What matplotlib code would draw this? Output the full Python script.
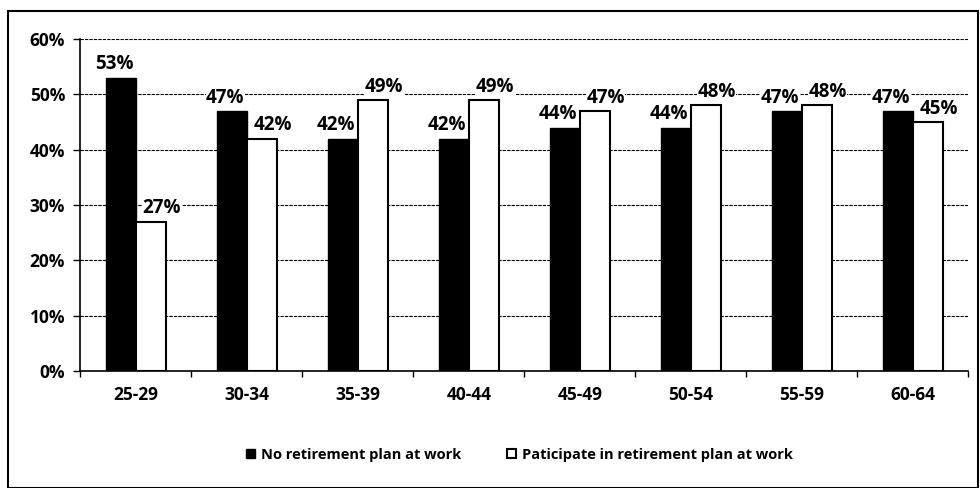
import matplotlib
matplotlib.use("Agg")
import matplotlib.pyplot as plt
from matplotlib.patches import Rectangle
import numpy as np

plt.rcParams['font.family'] = ['Open Sans', 'DejaVu Sans']

categories = ["25-29", "30-34", "35-39", "40-44", "45-49", "50-54", "55-59", "60-64"]
no_plan = [53, 47, 42, 42, 44, 44, 47, 47]
participate = [27, 42, 49, 49, 47, 48, 48, 45]
no_plan_labels = ["53%", "47%", "42%", "42%", "44%", "44%", "47%", "47%"]
participate_labels = ["27%", "42%", "49%", "49%", "47%", "48%", "48%", "45%"]
yticks = [0, 10, 20, 30, 40, 50, 60]
series_names = ["No retirement plan at work", "Paticipate in retirement plan at work"]

fig = plt.figure(figsize=(9.8, 4.88), dpi=100)
ax = fig.add_axes([0.082, 0.240, 0.906, 0.680])

x = np.arange(len(categories))
w = 0.27
b1 = ax.bar(x - w / 2, no_plan, w, color="black", edgecolor="black", linewidth=1, label=series_names[0], zorder=3)
b2 = ax.bar(x + w / 2, participate, w, color="white", edgecolor="black", linewidth=1.5, label=series_names[1], zorder=3)

for xi, v, s in zip(x, no_plan, no_plan_labels):
    ax.text(xi - w / 2 - 0.06, v + 0.6, s, ha="center", va="bottom", fontsize=13.5, fontweight="bold", zorder=4,
            bbox=dict(facecolor="white", edgecolor="none", pad=0.3))
for xi, v, s in zip(x, participate, participate_labels):
    ax.text(xi + w / 2 + 0.1, v + 0.6, s, ha="center", va="bottom", fontsize=13.5, fontweight="bold", zorder=4,
            bbox=dict(facecolor="white", edgecolor="none", pad=0.3))

ax.set_xlim(-0.5, len(categories) - 0.5)
ax.set_ylim(0, 60)
ax.set_yticks(yticks)
ax.set_yticklabels([f"{t}%" for t in yticks], fontsize=12.5, fontweight="bold")
ax.set_xticks(x)
ax.set_xticklabels(categories, fontsize=12.5, fontweight="bold")
ax.set_xticks(np.arange(-0.5, len(categories)), minor=True)
ax.tick_params(axis="x", which="major", length=0, pad=11)
ax.tick_params(axis="x", which="minor", length=4, direction="out", width=1)
ax.tick_params(axis="y", length=5, direction="out", width=1, pad=6)

ax.yaxis.grid(True, color="black", linestyle=(0, (3, 1)), linewidth=0.8, zorder=0)
ax.set_axisbelow(True)
for side in ["top", "right"]:
    ax.spines[side].set_visible(False)
ax.spines["left"].set_linewidth(1.2)
ax.spines["bottom"].set_linewidth(1.2)

leg = fig.legend(handles=[b1, b2], labels=series_names, loc="center", bbox_to_anchor=(0.53, 0.068),
                 ncol=2, frameon=False, fontsize=10.5, handlelength=0.6, handleheight=0.6,
                 columnspacing=3.2, handletextpad=0.4)
for t in leg.get_texts():
    t.set_fontweight("bold")

fig.patches.append(Rectangle((0.008, 0.0), 0.99, 0.978, transform=fig.transFigure,
                             fill=False, edgecolor="black", linewidth=1.5))

fig.savefig("out.png", dpi=100, facecolor="white")
